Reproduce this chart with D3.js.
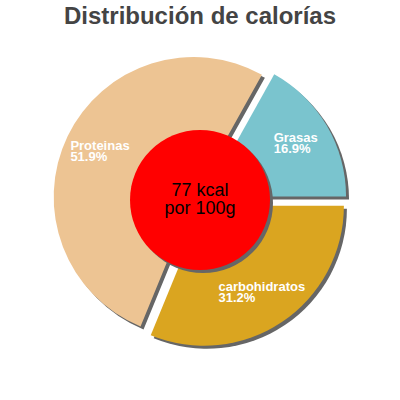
<!DOCTYPE html>
<html>
<head>
<meta charset="utf-8">
<script src="https://cdn.jsdelivr.net/npm/d3@7"></script>
<style>
  html, body { margin: 0; padding: 0; background: #fff; }
  svg { display: block; font-family: "Liberation Sans", Arial, sans-serif; }
</style>
</head>
<body>
<div id="chart"></div>
<script>
const title = "Distribución de calorías";
const categories = ["Grasas", "Proteinas", "carbohidratos"];
const percents = [16.9, 51.9, 31.2];
const centerLines = ["77 kcal", "por 100g"];

const colors = ["#7ac4ce", "#edc493", "#daa520"];

const width = 400;
const height = 400;
const cx = 200, cy = 200;
const radius = 140;
const explode = 7;

const svg = d3.select("#chart")
  .append("svg")
  .attr("width", width)
  .attr("height", height);

svg.append("text")
  .attr("x", width / 2)
  .attr("y", 24)
  .attr("text-anchor", "middle")
  .attr("font-size", 24)
  .attr("font-weight", "bold")
  .attr("fill", "#444")
  .text(title);

const data = categories.map((c, i) => ({ name: c, value: percents[i], color: colors[i] }));

// counterclockwise from 3 o'clock
const pie = d3.pie()
  .sort(null)
  .value(d => d.value)
  .startAngle(Math.PI / 2)
  .endAngle(Math.PI / 2 - 2 * Math.PI);

const arcs = pie(data);
const arc = d3.arc().innerRadius(0).outerRadius(radius);
const labelArc = d3.arc().innerRadius(104).outerRadius(104);

const shift = d => {
  const mid = (d.startAngle + d.endAngle) / 2;
  return [Math.sin(mid) * explode, -Math.cos(mid) * explode];
};

const g = svg.append("g").attr("transform", `translate(${cx},${cy})`);

// shadows
g.selectAll("path.shadow")
  .data(arcs)
  .join("path")
  .attr("class", "shadow")
  .attr("d", arc)
  .attr("fill", "#666")
  .attr("transform", d => { const s = shift(d); return `translate(${s[0] + 3},${s[1] + 3})`; });

g.selectAll("path.slice")
  .data(arcs)
  .join("path")
  .attr("class", "slice")
  .attr("d", arc)
  .attr("fill", d => d.data.color)
  .attr("transform", d => { const s = shift(d); return `translate(${s[0]},${s[1]})`; });

// labels
const labels = g.selectAll("text.label")
  .data(arcs)
  .join("text")
  .attr("class", "label")
  .attr("font-size", 13)
  .attr("font-weight", "bold")
  .attr("fill", "#fff");

labels.each(function(d) {
  const t = d3.select(this);
  const s = shift(d);
  const c = labelArc.centroid(d);
  const x = c[0] + s[0], y = c[1] + s[1];
  const l1 = t.append("tspan").text(d.data.name);
  const l2 = t.append("tspan").text(d.data.value.toFixed(1) + "%");
  const w = Math.max(l1.node().getComputedTextLength(), l2.node().getComputedTextLength());
  l1.attr("x", x - w / 2).attr("y", y - 1.5);
  l2.attr("x", x - w / 2).attr("y", y + 9.5);
});

// center circle
g.append("circle")
  .attr("cx", 3).attr("cy", 3)
  .attr("r", 70)
  .attr("fill", "#666");

g.append("circle")
  .attr("r", 70)
  .attr("fill", "#ff0000");

g.append("text")
  .attr("text-anchor", "middle")
  .attr("font-size", 18)
  .attr("fill", "#000")
  .selectAll("tspan")
  .data(centerLines)
  .join("tspan")
  .attr("x", 0)
  .attr("y", (d, i) => -4 + i * 18)
  .text(d => d);
</script>
</body>
</html>
